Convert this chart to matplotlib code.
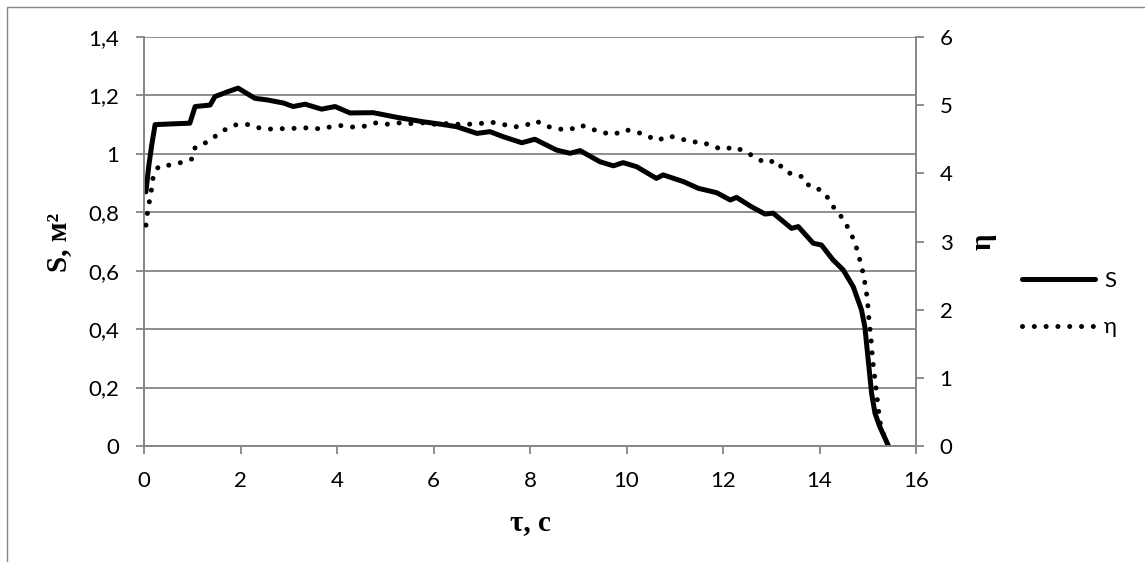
import numpy as np
import matplotlib
matplotlib.use("Agg")
import matplotlib.pyplot as plt
from matplotlib.lines import Line2D

# S(tau), m^2
tau_s = [0.04, 0.10, 0.16, 0.23, 0.5, 0.95, 1.06, 1.37, 1.47, 1.74, 1.95,
         2.2, 2.3, 2.54, 2.89, 3.09, 3.34, 3.68, 3.96, 4.27, 4.75, 5.24, 5.78,
         6.13, 6.48, 6.9, 7.17, 7.44, 7.83, 8.1, 8.55, 8.83, 9.04, 9.45, 9.73,
         9.93, 10.21, 10.62, 10.76, 11.18, 11.49, 11.87, 12.15, 12.28, 12.59,
         12.87, 13.04, 13.42, 13.56, 13.87, 14.04, 14.28, 14.49, 14.7, 14.87,
         14.94, 15.01, 15.08, 15.15, 15.25, 15.43]
s_vals = [0.87, 0.96, 1.03, 1.10, 1.102, 1.105, 1.162, 1.167, 1.196, 1.213,
          1.225, 1.20, 1.19, 1.185, 1.174, 1.162, 1.17, 1.153, 1.162, 1.14,
          1.141, 1.125, 1.11, 1.102, 1.093, 1.07, 1.076, 1.059, 1.038, 1.05,
          1.013, 1.002, 1.011, 0.973, 0.959, 0.97, 0.956, 0.916, 0.928, 0.905,
          0.882, 0.867, 0.842, 0.851, 0.819, 0.794, 0.797, 0.745, 0.751, 0.694,
          0.688, 0.637, 0.603, 0.545, 0.466, 0.408, 0.294, 0.18, 0.112, 0.066,
          0.0]

# eta(tau)
tau_eta = [0.04, 0.07, 0.11, 0.16, 0.19, 0.3, 0.52, 0.78, 0.99, 1.06,
           1.28, 1.47, 1.68, 1.89, 2.13, 2.29, 2.52, 2.75, 2.96, 3.2,
           3.43, 3.67, 3.85, 4.08, 4.32, 4.56, 4.79, 5.03, 5.27, 5.53,
           5.78, 6.01, 6.25, 6.49, 6.73, 6.96, 7.2, 7.43, 7.67, 7.9,
           8.12, 8.35, 8.59, 8.83, 9.04, 9.28, 9.49, 9.74, 9.97, 10.2,
           10.43, 10.64, 10.87, 11.11, 11.35, 11.57, 11.8, 12.02, 12.23, 12.45,
           12.66, 12.88, 13.1, 13.26, 13.47, 13.66, 13.8, 14.01, 14.19, 14.32,
           14.47, 14.6, 14.7, 14.79, 14.85, 14.91, 14.95, 14.99, 15.01, 15.03,
           15.06, 15.08, 15.1, 15.13, 15.16, 15.19, 15.22, 15.25, 15.32, 15.4]
eta_vals = [3.24, 3.41, 3.58, 3.78, 3.95, 4.10, 4.12, 4.16, 4.21, 4.38,
            4.45, 4.54, 4.64, 4.71, 4.72, 4.68, 4.65, 4.65, 4.66, 4.66,
            4.67, 4.65, 4.68, 4.70, 4.68, 4.69, 4.74, 4.72, 4.74, 4.73,
            4.74, 4.72, 4.73, 4.72, 4.72, 4.73, 4.75, 4.72, 4.68, 4.70,
            4.77, 4.69, 4.65, 4.64, 4.71, 4.65, 4.60, 4.57, 4.64, 4.61,
            4.55, 4.48, 4.55, 4.51, 4.46, 4.46, 4.39, 4.35, 4.39, 4.32,
            4.24, 4.15, 4.19, 4.05, 3.97, 3.95, 3.80, 3.76, 3.63, 3.47,
            3.35, 3.19, 3.04, 2.86, 2.69, 2.52, 2.35, 2.17, 1.99, 1.81,
            1.63, 1.46, 1.27, 1.09, 0.92, 0.73, 0.55, 0.36, 0.19, 0.02]

x_ticks = [0, 2, 4, 6, 8, 10, 12, 14, 16]
s_ticks = [0, 0.2, 0.4, 0.6, 0.8, 1.0, 1.2, 1.4]
s_labels = ["0", "0,2", "0,4", "0,6", "0,8", "1", "1,2", "1,4"]
eta_ticks = [0, 1, 2, 3, 4, 5, 6]

W, H = 1145, 562
grey = "#868686"
tick_font = "Lato"
serif = "Liberation Serif"

fig = plt.figure(figsize=(W / 100, H / 100), dpi=100)
ax = fig.add_axes([144 / W, 1 - 446 / H, (916 - 144) / W, (446 - 37) / H])
ax2 = ax.twinx()

l1, = ax.plot(tau_s, s_vals, color="black", lw=3.6, solid_capstyle="round",
              solid_joinstyle="round", label="S", zorder=3)
l2, = ax2.plot(tau_eta, eta_vals, color="black", lw=3.6,
               linestyle=(0, (0.01, 2.35)), dash_capstyle="round",
               label="η", zorder=3)

ax.set_xlim(0, 16)
ax.set_ylim(0, 1.4)
ax2.set_ylim(0, 6)
ax.set_xticks(x_ticks)
ax.set_xticklabels([str(v) for v in x_ticks])
ax.set_yticks(s_ticks)
ax.set_yticklabels(s_labels)
ax2.set_yticks(eta_ticks)
ax2.set_yticklabels([str(v) for v in eta_ticks])

ax.grid(axis="y", color=grey, lw=1.3)
ax.set_axisbelow(True)

for a in (ax, ax2):
    a.spines["top"].set_visible(False)
    for side in ("left", "right", "bottom"):
        a.spines[side].set_color(grey)
        a.spines[side].set_linewidth(1.3)
    a.tick_params(colors=grey, width=1.3, length=6, labelcolor="black",
                  labelsize=16)
ax.tick_params(axis="y", pad=12)
ax.tick_params(axis="x", pad=12)
ax2.tick_params(axis="y", pad=11)
for lab in ax.get_xticklabels() + ax.get_yticklabels() + ax2.get_yticklabels():
    lab.set_fontfamily(tick_font)

fig.text(59 / W, 1 - 242 / H, "S, м²", rotation=90, ha="center", va="center",
         fontsize=21, fontweight="bold", family=serif)
fig.text(530 / W, 1 - 523 / H, "τ, с", ha="center", va="center",
         fontsize=21, fontweight="bold", family=serif)
fig.text(983 / W, 1 - 242 / H, "η", rotation=90, ha="center", va="center",
         fontsize=21, fontweight="bold", family=serif)

fig.legend([l1, l2], ["S", "η"], loc="center left",
           bbox_to_anchor=(1022 / W, 1 - 304 / H), frameon=False,
           borderpad=0, borderaxespad=0, handlelength=3.3, handletextpad=0.4,
           labelspacing=1.2, prop={"family": tick_font, "size": 16})

# outer chart frame (only top and left edges are visible)
fig.add_artist(Line2D([7.3 / W, 7.3 / W, 1], [0, 1 - 7.3 / H, 1 - 7.3 / H],
                      transform=fig.transFigure, color=grey, lw=1.0))

fig.savefig("out.png", dpi=100)
